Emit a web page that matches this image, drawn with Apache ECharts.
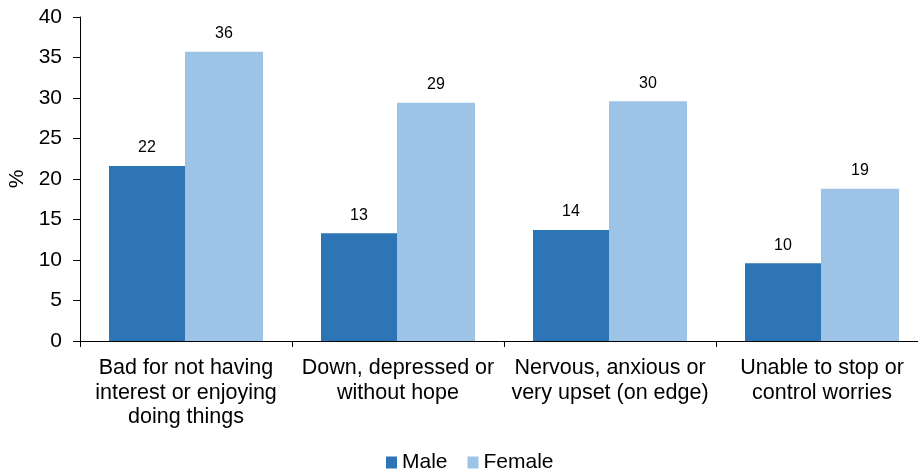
<!DOCTYPE html>
<html>
<head>
<meta charset="utf-8">
<script src="https://cdn.jsdelivr.net/npm/echarts@6/dist/echarts.min.js"></script>
<style>
html,body{margin:0;padding:0;background:#fff;}
#chart{width:918px;height:471px;}
</style>
</head>
<body>
<div id="chart"></div>
<script>
// Symptom categories (x axis)
var categories = [
  'Bad for not having\ninterest or enjoying\ndoing things',
  'Down, depressed or\nwithout hope',
  'Nervous, anxious or\nvery upset (on edge)',
  'Unable to stop or\ncontrol worries'
];
// Share of respondents, %
var maleValues = [21.6, 13.3, 13.7, 9.6];
var femaleValues = [35.7, 29.4, 29.6, 18.8];
// Y-axis range and step
var yMin = 0, yMax = 40, yStep = 5;

var font = 'Liberation Sans, Arial, sans-serif';
var chart = echarts.init(document.getElementById('chart'));

function barLabel() {
  return {
    show: true,
    position: 'top',
    distance: 10,
    color: '#000',
    fontFamily: font,
    fontSize: 16,
    formatter: function (p) { return Math.round(p.value); }
  };
}

chart.setOption({
  animation: false,
  grid: {
    left: 80, top: 17, width: 848, height: 324,
    containLabel: false,
    outerBoundsMode: 'none'
  },
  legend: {
    top: 447,
    left: 381,
    itemWidth: 11,
    itemHeight: 12,
    itemGap: 20,
    icon: 'rect',
    textStyle: { fontFamily: font, fontSize: 21, color: '#000', padding: [0, 0, 0, 0] },
    data: ['Male', 'Female']
  },
  xAxis: {
    type: 'category',
    data: categories,
    axisLine: { lineStyle: { color: '#000', width: 1 } },
    axisTick: { show: true, alignWithLabel: false, length: 6, lineStyle: { color: '#000' } },
    axisLabel: { interval: 0, fontFamily: font, fontSize: 21.5, color: '#000', lineHeight: 24.5, margin: 15 }
  },
  yAxis: {
    type: 'value',
    min: yMin, max: yMax, interval: yStep,
    name: '%',
    nameLocation: 'middle',
    nameRotate: 90,
    nameGap: 52,
    nameTextStyle: { fontFamily: font, fontSize: 21, color: '#000' },
    splitLine: { show: false },
    axisLine: { show: true, lineStyle: { color: '#000', width: 1 } },
    axisTick: { show: true, length: 7, lineStyle: { color: '#000' } },
    axisLabel: { fontFamily: font, fontSize: 21, color: '#000', margin: 18 }
  },
  series: [
    {
      name: 'Male', type: 'bar', data: maleValues,
      barWidth: 76, barGap: '0%',
      itemStyle: { color: '#2E75B6' },
      label: barLabel()
    },
    {
      name: 'Female', type: 'bar', data: femaleValues,
      barWidth: 78,
      itemStyle: { color: '#9DC3E6' },
      label: barLabel()
    }
  ]
});
</script>
</body>
</html>
